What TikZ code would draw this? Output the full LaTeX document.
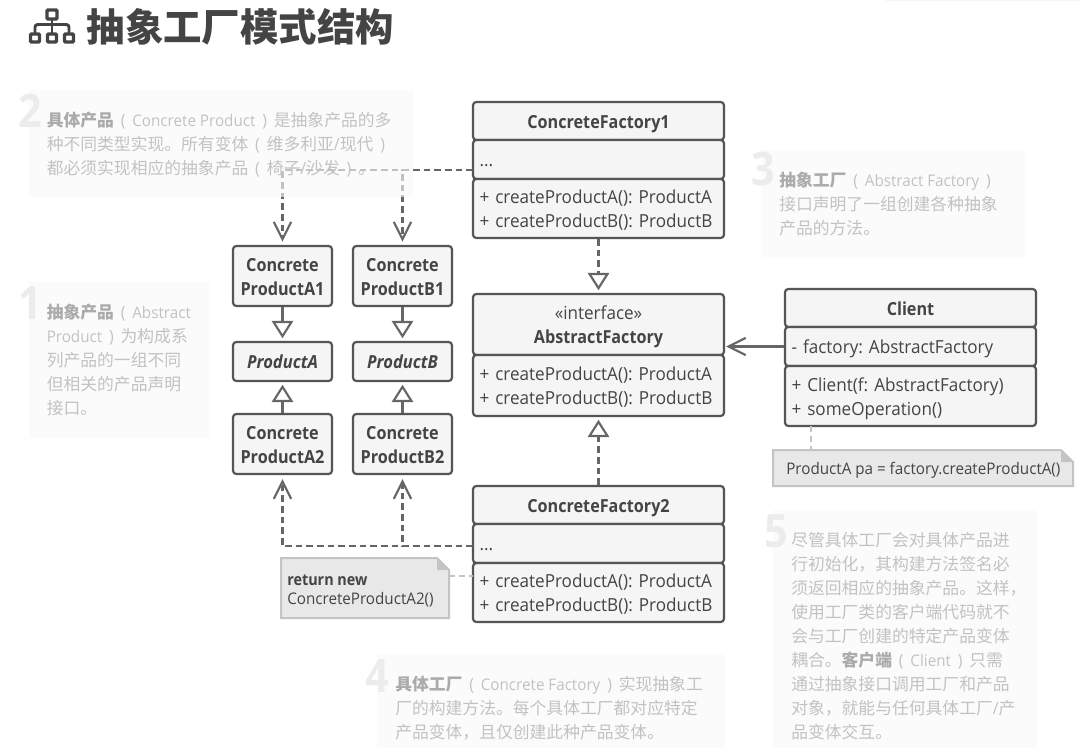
\documentclass[tikz,border=0pt]{standalone}
\usepackage{fontspec}
\usetikzlibrary{arrows.meta,calc}
\setmainfont{Open Sans}[FakeStretch=0.95,BoldFeatures={FakeStretch=0.9},BoldItalicFeatures={FakeStretch=0.92}]
\newfontfamily\cjk{Noto Sans CJK SC}
\definecolor{ink}{HTML}{444444}
\definecolor{edge}{HTML}{555555}
\definecolor{wire}{HTML}{666666}
\definecolor{boxfill}{HTML}{F5F5F5}
\definecolor{notefill}{HTML}{E8E8E8}
\definecolor{noteedge}{HTML}{C4C4C4}
\definecolor{panelfill}{HTML}{FAFAFA}
\definecolor{numcol}{HTML}{ECECEC}
\definecolor{fadetext}{HTML}{C2C2C2}
\definecolor{fadebold}{HTML}{ABABAB}
% centred box, natural text width
\newcommand\pxbox[7]{\node[#1,minimum width=(#5-#3)*0.75pt,minimum height=(#6-#4)*0.75pt] (#2) at ({(#3+#5)/2},{(#4+#6)/2}) {#7};}
% left-aligned compartment
\newcommand\pxcomp[7]{\node[#1,minimum width=(#5-#3)*0.75pt,minimum height=(#6-#4)*0.75pt,text width=(#5-#3-13)*0.75pt] (#2) at ({(#3+#5)/2},{(#4+#6)/2}) {#7};}
\newcommand\st{\rule[-3.2pt]{0pt}{17.5pt}}
\newcommand\ml[1]{\mbox{\st #1}}
\newcommand\bd[1]{{\color{fadebold}\bfseries\cjk #1}}
\newcommand\cj[1]{{\cjk #1}}
\newcommand\lp{\hspace{0.6pt}\makebox[12.6pt][c]{(}\hspace{0.6pt}}
\newcommand\rp{\hspace{0.6pt}\makebox[12.6pt][c]{)}\hspace{0.6pt}}
\frenchspacing
\lineskiplimit=-100pt
\tikzset{
  comp/.style={draw=edge,fill=boxfill,line width=1.65pt,rounded corners=2.5pt,inner sep=0pt,text=ink,font=\fontsize{13.5}{18}\selectfont,align=left},
  head/.style={comp,align=center,font=\fontsize{13.5}{18}\selectfont\bfseries},
  abstracthead/.style={comp,align=center,font=\fontsize{13.5}{18}\selectfont\bfseries\itshape},
  panel/.style={fill=panelfill,fill opacity=0.62},
  paneltext/.style={anchor=north west,inner sep=0pt,align=left,text=fadetext,font=\fontsize{12.6}{18}\selectfont},
  numeral/.style={anchor=base west,inner sep=0pt,text=numcol,font=\fontsize{34.5}{36}\selectfont\bfseries},
  notetext/.style={anchor=west,inner sep=0pt,align=left,text=ink,font=\fontsize{12}{14.5}\selectfont},
  notebody/.style={fill=notefill,draw=noteedge,line width=1.5pt,line join=miter},
  wireline/.style={draw=wire,line width=1.6pt},
  dep/.style={wireline,dash pattern=on 5pt off 3pt},
  openhead/.style={-{Straight Barb[length=13pt,width=13pt,line width=1.6pt]}},
  hollow/.style={-{Triangle[open,length=13pt,width=16pt,line width=1.6pt,fill=white]}},
  notelink/.style={draw=noteedge,line width=1.5pt,dash pattern=on 4.5pt off 3pt},
  iconpart/.style={draw=ink,line width=2.6pt,rounded corners=0.8pt}
}
\begin{document}
\begin{tikzpicture}[x=0.75pt,y=-0.75pt]
\useasboundingbox (0,0) rectangle (1080,748);
\fill[white] (0,0) rectangle (1080,748);
\fill[black!4] (885,0) rectangle (1080,1);
% title
\draw[iconpart] (47,10) rectangle (57,19);
\draw[iconpart] (30.5,34) rectangle (39.5,42);
\draw[iconpart] (47.5,34) rectangle (56.5,42);
\draw[iconpart] (64.5,34) rectangle (73.5,42);
\draw[draw=ink,line width=2.2pt,rounded corners=2pt] (35,33) |- (69,24.5) -- (69,33);
\draw[draw=ink,line width=2.2pt] (52,20) -- (52,33);
\node[anchor=west,inner sep=0pt,text=ink,font=\fontsize{28.8}{32}\selectfont\bfseries\cjk] (title) at (86.5,27) {抽象工厂模式结构};
% factories
\pxbox{head}{cf1h}{473}{102}{724}{140}{\st ConcreteFactory1}
\pxcomp{comp}{cf1f}{473}{140}{724}{179}{\ml{...}}
\pxcomp{comp}{cf1m}{473}{179}{724}{238}{\ml{+ createProductA(): ProductA}\\\ml{+ createProductB(): ProductB}}
\pxbox{head}{afh}{473}{294}{724}{355}{{\mdseries\st «interface»}\\\st AbstractFactory}
\pxcomp{comp}{afm}{473}{355}{724}{416}{\ml{+ createProductA(): ProductA}\\\ml{+ createProductB(): ProductB}}
\pxbox{head}{cf2h}{473}{486}{724}{524}{\st ConcreteFactory2}
\pxcomp{comp}{cf2f}{473}{524}{724}{563}{\ml{...}}
\pxcomp{comp}{cf2m}{473}{563}{724}{622}{\ml{+ createProductA(): ProductA}\\\ml{+ createProductB(): ProductB}}
% client
\pxbox{head}{clh}{785}{289}{1036}{327}{\st Client}
\pxcomp{comp}{clf}{785}{327}{1036}{366}{\ml{- factory: AbstractFactory}}
\pxcomp{comp}{clm}{785}{366}{1036}{426}{\ml{+ Client(f: AbstractFactory)}\\\ml{+ someOperation()}}
% products
\pxbox{head}{a1}{233}{246}{332}{306}{\st Concrete\\\st ProductA1}
\pxbox{head}{b1}{353}{246}{452}{306}{\st Concrete\\\st ProductB1}
\pxbox{abstracthead}{pa}{233}{342}{332}{381}{\st ProductA}
\pxbox{abstracthead}{pb}{353}{342}{452}{381}{\st ProductB}
\pxbox{head}{a2}{233}{414}{332}{474}{\st Concrete\\\st ProductA2}
\pxbox{head}{b2}{353}{414}{452}{474}{\st Concrete\\\st ProductB2}
% notes
\draw[notebody] (281,558) -- (437,558) -- (449,570) -- (449,618) -- (281,618) -- cycle;
\fill[noteedge] (437,558) -- (449,570) -- (437,570) -- cycle;
\node[notetext] (retnote) at (287,591) {{\bfseries return new}\\ConcreteProductA2()};
\draw[notebody] (773,450) -- (1061,450) -- (1073,462) -- (1073,486) -- (773,486) -- cycle;
\fill[noteedge] (1061,450) -- (1073,462) -- (1061,462) -- cycle;
\node[notetext] (clnote) at (786,470) {ProductA pa = factory.createProductA()};
% connectors
\coordinate (cf1out) at (473,170);
\coordinate (cf2out) at (473,546);
\coordinate (cf2noteend) at (473,576);
\coordinate (retnoteend) at (449,576);
\coordinate (cltop) at (811,426);
\coordinate (notetop) at (811,450);
\coordinate (clafend) at (724,346.5);
\draw[dep,openhead,shorten >=2.5pt] (cf1out) -| (a1.north);
\draw[dep,openhead,shorten >=2.5pt] (cf1out) -| (b1.north);
\draw[dep,openhead,shorten >=3pt] (cf2out) -| (a2.south);
\draw[dep,openhead,shorten >=3pt] (cf2out) -| (b2.south);
\draw[wireline,hollow,shorten >=2pt] (a1) -- (pa);
\draw[wireline,hollow,shorten >=2pt] (b1) -- (pb);
\draw[wireline,hollow,shorten >=2pt] (a2) -- (pa);
\draw[wireline,hollow,shorten >=2pt] (b2) -- (pb);
\draw[dep,hollow,shorten >=2pt] (cf1m.south) -- (afh.north);
\draw[dep,hollow,shorten >=2pt] (cf2h.north) -- (afm.south);
\draw[wireline,openhead,shorten >=1.5pt] (clf.west) -- (clafend);
\draw[notelink] (retnoteend) -- (cf2noteend);
\draw[notelink] (cltop) -- (notetop);
% panels
\fill[panel] (29,90) rectangle (413,197);
\fill[panel] (29,282) rectangle (209,438);
\fill[panel] (761,150) rectangle (1025,257);
\fill[panel] (773,510) rectangle (1037,748);
\fill[panel] (377,654) rectangle (725,748);
\node[numeral] (n2) at (18,128) {2};
\node[numeral] (n1) at (18,320) {1};
\node[numeral] (n3) at (751,186) {3};
\node[numeral] (n5) at (764,547) {5};
\node[numeral] (n4) at (365,692) {4};
\node[paneltext] (t2) at (46.5,112) {\bd{具体产品}\lp{\fontsize{12}{18}\selectfont Concrete Product}\rp\cj{是抽象产品的多}\\\cj{种不同类型实现。所有变体}\lp\cj{维多利亚}/\cj{现代}\rp\\\cj{都必须实现相应的抽象产品}\lp\cj{椅子}/\cj{沙发}\rp\cj{。}};
\node[paneltext] (t1) at (46.5,304) {\bd{抽象产品}\lp{\fontsize{12}{18}\selectfont Abstract}\\{\fontsize{12}{18}\selectfont Product}\rp\cj{为构成系}\\\cj{列产品的一组不同}\\\cj{但相关的产品声明}\\\cj{接口。}};
\node[paneltext] (t3) at (779,172) {\bd{抽象工厂}\lp{\fontsize{12}{18}\selectfont Abstract Factory}\rp\\\cj{接口声明了一组创建各种抽象}\\\cj{产品的方法。}};
\node[paneltext] (t5) at (791,532) {\cj{尽管具体工厂会对具体产品进}\\\cj{行初始化，其构建方法签名必}\\\cj{须返回相应的抽象产品。这样，}\\\cj{使用工厂类的客户端代码就不}\\\cj{会与工厂创建的特定产品变体}\\\cj{耦合。}\bd{客户端}\lp{\fontsize{12}{18}\selectfont Client}\rp\cj{只需}\\\cj{通过抽象接口调用工厂和产品}\\\cj{对象，就能与任何具体工厂}/\cj{产}\\\cj{品变体交互。}};
\node[paneltext] (t4) at (395,676) {\bd{具体工厂}\lp{\fontsize{12}{18}\selectfont Concrete Factory}\rp\cj{实现抽象工}\\\cj{厂的构建方法。每个具体工厂都对应特定}\\\cj{产品变体，且仅创建此种产品变体。}};
\end{tikzpicture}
\end{document}
